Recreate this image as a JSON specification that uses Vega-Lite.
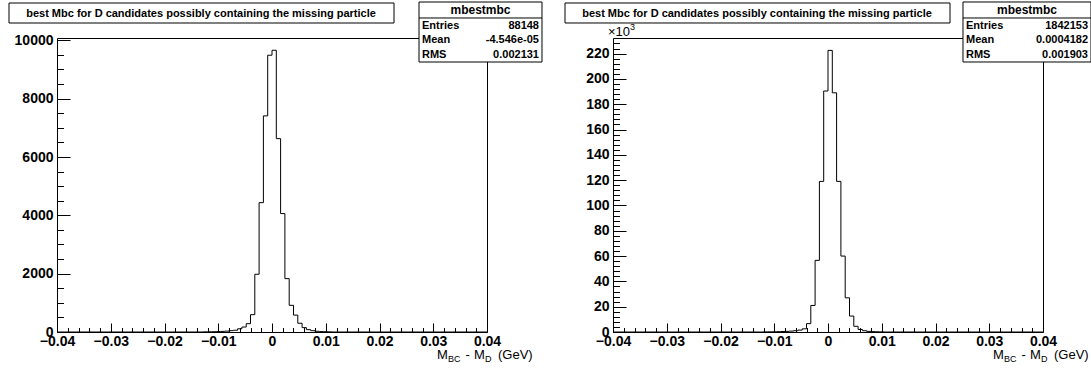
{
  "$schema": "https://vega.github.io/schema/vega-lite/v6.json",
  "autosize": {"type": "pad"},
  "padding": {"left": 8, "top": 0, "right": 0, "bottom": 0},
  "background": "white",
  "spacing": 126,
  "bounds": "flush",
  "config": {
    "font": "Liberation Sans",
    "view": {"stroke": "black", "strokeWidth": 1},
    "axis": {"labelFont": "Liberation Sans", "labelFontWeight": "bold", "labelFontSize": 14, "labelColor": "black", "grid": false, "domain": false, "tickColor": "black", "title": null},
    "text": {"font": "Liberation Sans", "color": "black"}
  },
  "datasets": {
    "one": [{}],
    "left": [
      {"x": -0.04, "n": 0}, {"x": -0.0128, "n": 5}, {"x": -0.012, "n": 8}, {"x": -0.0112, "n": 10}, {"x": -0.0104, "n": 15},
      {"x": -0.0096, "n": 20}, {"x": -0.0088, "n": 30}, {"x": -0.008, "n": 45}, {"x": -0.0072, "n": 60}, {"x": -0.0064, "n": 110},
      {"x": -0.0056, "n": 170}, {"x": -0.0048, "n": 285}, {"x": -0.004, "n": 595}, {"x": -0.0032, "n": 1980}, {"x": -0.0024, "n": 4435},
      {"x": -0.0016, "n": 7410}, {"x": -0.0008, "n": 9490}, {"x": 0, "n": 9660}, {"x": 0.0008, "n": 6630}, {"x": 0.0016, "n": 4060},
      {"x": 0.0024, "n": 1830}, {"x": 0.0032, "n": 915}, {"x": 0.004, "n": 580}, {"x": 0.0048, "n": 300}, {"x": 0.0056, "n": 150},
      {"x": 0.0064, "n": 80}, {"x": 0.0072, "n": 45}, {"x": 0.008, "n": 25}, {"x": 0.0088, "n": 15}, {"x": 0.0096, "n": 10},
      {"x": 0.0104, "n": 5}, {"x": 0.0112, "n": 0}, {"x": 0.04, "n": 0}
    ],
    "right": [
      {"x": -0.04, "n": 0}, {"x": -0.012, "n": 100}, {"x": -0.0112, "n": 150}, {"x": -0.0104, "n": 200}, {"x": -0.0096, "n": 300},
      {"x": -0.0088, "n": 400}, {"x": -0.008, "n": 500}, {"x": -0.0072, "n": 700}, {"x": -0.0064, "n": 1000}, {"x": -0.0056, "n": 1500},
      {"x": -0.0048, "n": 2500}, {"x": -0.004, "n": 6600}, {"x": -0.0032, "n": 21000}, {"x": -0.0024, "n": 56600}, {"x": -0.0016, "n": 119000},
      {"x": -0.0008, "n": 190400}, {"x": 0, "n": 222500}, {"x": 0.0008, "n": 189000}, {"x": 0.0016, "n": 119000}, {"x": 0.0024, "n": 60000},
      {"x": 0.0032, "n": 27000}, {"x": 0.004, "n": 12600}, {"x": 0.0048, "n": 4500}, {"x": 0.0056, "n": 2000}, {"x": 0.0064, "n": 1000},
      {"x": 0.0072, "n": 500}, {"x": 0.008, "n": 300}, {"x": 0.0088, "n": 200}, {"x": 0.0096, "n": 100}, {"x": 0.0104, "n": 0}, {"x": 0.04, "n": 0}
    ]
  },
  "hconcat": [
    {
      "width": 430, "height": 294,
      "resolve": {"axis": {"x": "independent", "y": "independent"}},
      "layer": [
        {
          "data": {"name": "left"},
          "mark": {"type": "line", "interpolate": "step-after", "color": "black", "strokeWidth": 1},
          "encoding": {
            "x": {"field": "x", "type": "quantitative", "scale": {"domain": [-0.04, 0.04], "nice": false, "zero": false},
                  "axis": {"orient": "bottom", "values": [-0.04, -0.03, -0.02, -0.01, 0, 0.01, 0.02, 0.03, 0.04], "format": "~g", "ticks": false, "labelPadding": 2, "labelFlush": false}},
            "y": {"field": "n", "type": "quantitative", "scale": {"domain": [0, 10080], "nice": false},
                  "axis": {"orient": "left", "values": [0, 2000, 4000, 6000, 8000, 10000], "format": "d", "ticks": false, "labelPadding": 4, "labelFlush": false}}
          }
        },
        {
          "data": {"name": "one"},
          "mark": {"type": "rect", "fill": "white", "stroke": "black", "strokeWidth": 1},
          "encoding": {
            "x": {"datum": -0.04893, "type": "quantitative", "axis": {"orient": "bottom", "values": [-0.04, -0.03, -0.02, -0.01, 0, 0.01, 0.02, 0.03, 0.04], "labels": false, "tickSize": -9}},
            "x2": {"datum": 0.0227},
            "y": {"datum": 11280, "type": "quantitative", "axis": {"orient": "left", "values": [0, 2000, 4000, 6000, 8000, 10000], "labels": false, "tickSize": -13}},
            "y2": {"datum": 10594}
          }
        },
        {
          "data": {"name": "one"},
          "mark": {"type": "rect", "fill": "white", "stroke": "black", "strokeWidth": 1},
          "encoding": {
            "x": {"datum": 0.02735, "type": "quantitative", "axis": {"orient": "bottom", "values": [-0.038, -0.036, -0.034, -0.032, -0.028, -0.026, -0.024, -0.022, -0.018, -0.016, -0.014, -0.012, -0.008, -0.006, -0.004, -0.002, 0.002, 0.004, 0.006, 0.008, 0.012, 0.014, 0.016, 0.018, 0.022, 0.024, 0.026, 0.028, 0.032, 0.034, 0.036, 0.038], "labels": false, "tickSize": -4.5}},
            "x2": {"datum": 0.05023},
            "y": {"datum": 11314, "type": "quantitative", "axis": {"orient": "left", "values": [500, 1000, 1500, 2500, 3000, 3500, 4500, 5000, 5500, 6500, 7000, 7500, 8500, 9000, 9500], "labels": false, "tickSize": -6.5}},
            "y2": {"datum": 9257}
          }
        },
        {
          "data": {"name": "one"},
          "mark": {"type": "rule", "color": "black", "strokeWidth": 1},
          "encoding": {"x": {"datum": 0.02735, "type": "quantitative", "axis": null}, "x2": {"datum": 0.05023}, "y": {"datum": 10766, "type": "quantitative", "axis": null}}
        },
        {
          "data": {"name": "one"},
          "mark": {"type": "text", "text": "best Mbc for D candidates possibly containing the missing particle", "align": "center", "baseline": "alphabetic", "fontSize": 11, "fontWeight": "bold"},
          "encoding": {"x": {"datum": -0.013209, "type": "quantitative", "axis": null}, "y": {"datum": 10800, "type": "quantitative", "axis": null}}
        },
        {
          "data": {"name": "one"},
          "mark": {"type": "text", "text": "mbestmbc", "align": "center", "baseline": "alphabetic", "fontSize": 12, "fontWeight": "bold"},
          "encoding": {"x": {"datum": 0.038791, "type": "quantitative", "axis": null}, "y": {"datum": 10886, "type": "quantitative", "axis": null}}
        },
        {
          "data": {"name": "one"},
          "mark": {"type": "text", "text": ["Entries", "Mean", "RMS"], "align": "left", "baseline": "alphabetic", "fontSize": 11, "fontWeight": "bold", "lineHeight": 14.5},
          "encoding": {"x": {"datum": 0.027907, "type": "quantitative", "axis": null}, "y": {"datum": 10389, "type": "quantitative", "axis": null}}
        },
        {
          "data": {"name": "one"},
          "mark": {"type": "text", "text": ["88148", "-4.546e-05", "0.002131"], "align": "right", "baseline": "alphabetic", "fontSize": 11, "fontWeight": "bold", "lineHeight": 14.5},
          "encoding": {"x": {"datum": 0.049674, "type": "quantitative", "axis": null}, "y": {"datum": 10389, "type": "quantitative", "axis": null}}
        },
        {
          "data": {"name": "one"},
          "mark": {"type": "text", "text": "M", "align": "left", "baseline": "alphabetic", "fontSize": 13, "dx": -50, "dy": 27},
          "encoding": {"x": {"datum": 0.04, "type": "quantitative", "axis": null}, "y": {"datum": 0, "type": "quantitative", "axis": null}}
        },
        {
          "data": {"name": "one"},
          "mark": {"type": "text", "text": "BC", "align": "left", "baseline": "alphabetic", "fontSize": 9, "dx": -39, "dy": 30},
          "encoding": {"x": {"datum": 0.04, "type": "quantitative", "axis": null}, "y": {"datum": 0, "type": "quantitative", "axis": null}}
        },
        {
          "data": {"name": "one"},
          "mark": {"type": "text", "text": "-", "align": "left", "baseline": "alphabetic", "fontSize": 13, "dx": -21.5, "dy": 27},
          "encoding": {"x": {"datum": 0.04, "type": "quantitative", "axis": null}, "y": {"datum": 0, "type": "quantitative", "axis": null}}
        },
        {
          "data": {"name": "one"},
          "mark": {"type": "text", "text": "M", "align": "left", "baseline": "alphabetic", "fontSize": 13, "dx": -13, "dy": 27},
          "encoding": {"x": {"datum": 0.04, "type": "quantitative", "axis": null}, "y": {"datum": 0, "type": "quantitative", "axis": null}}
        },
        {
          "data": {"name": "one"},
          "mark": {"type": "text", "text": "D", "align": "left", "baseline": "alphabetic", "fontSize": 9, "dx": -2, "dy": 30},
          "encoding": {"x": {"datum": 0.04, "type": "quantitative", "axis": null}, "y": {"datum": 0, "type": "quantitative", "axis": null}}
        },
        {
          "data": {"name": "one"},
          "mark": {"type": "text", "text": "(GeV)", "align": "left", "baseline": "alphabetic", "fontSize": 13, "dx": 11, "dy": 27},
          "encoding": {"x": {"datum": 0.04, "type": "quantitative", "axis": null}, "y": {"datum": 0, "type": "quantitative", "axis": null}}
        }
      ]
    },
    {
      "width": 430, "height": 294,
      "resolve": {"axis": {"x": "independent", "y": "independent"}},
      "layer": [
        {
          "data": {"name": "right"},
          "mark": {"type": "line", "interpolate": "step-after", "color": "black", "strokeWidth": 1},
          "encoding": {
            "x": {"field": "x", "type": "quantitative", "scale": {"domain": [-0.04, 0.04], "nice": false, "zero": false},
                  "axis": {"orient": "bottom", "values": [-0.04, -0.03, -0.02, -0.01, 0, 0.01, 0.02, 0.03, 0.04], "format": "~g", "ticks": false, "labelPadding": 2, "labelFlush": false}},
            "y": {"field": "n", "type": "quantitative", "scale": {"domain": [0, 232300], "nice": false},
                  "axis": {"orient": "left", "values": [0, 20000, 40000, 60000, 80000, 100000, 120000, 140000, 160000, 180000, 200000, 220000], "labelExpr": "format(datum.value / 1000, 'd')", "ticks": false, "labelPadding": 4, "labelFlush": false}}
          }
        },
        {
          "data": {"name": "one"},
          "mark": {"type": "rect", "fill": "white", "stroke": "black", "strokeWidth": 1},
          "encoding": {
            "x": {"datum": -0.04893, "type": "quantitative", "axis": {"orient": "bottom", "values": [-0.04, -0.03, -0.02, -0.01, 0, 0.01, 0.02, 0.03, 0.04], "labels": false, "tickSize": -9}},
            "x2": {"datum": 0.0227},
            "y": {"datum": 259956, "type": "quantitative", "axis": {"orient": "left", "values": [0, 20000, 40000, 60000, 80000, 100000, 120000, 140000, 160000, 180000, 200000, 220000], "labels": false, "tickSize": -13}},
            "y2": {"datum": 244153}
          }
        },
        {
          "data": {"name": "one"},
          "mark": {"type": "rect", "fill": "white", "stroke": "black", "strokeWidth": 1},
          "encoding": {
            "x": {"datum": 0.025116, "type": "quantitative", "axis": {"orient": "bottom", "values": [-0.038, -0.036, -0.034, -0.032, -0.028, -0.026, -0.024, -0.022, -0.018, -0.016, -0.014, -0.012, -0.008, -0.006, -0.004, -0.002, 0.002, 0.004, 0.006, 0.008, 0.012, 0.014, 0.016, 0.018, 0.022, 0.024, 0.026, 0.028, 0.032, 0.034, 0.036, 0.038], "labels": false, "tickSize": -4.5}},
            "x2": {"datum": 0.04893},
            "y": {"datum": 260746, "type": "quantitative", "axis": {"orient": "left", "values": [4000, 8000, 12000, 16000, 24000, 28000, 32000, 36000, 44000, 48000, 52000, 56000, 64000, 68000, 72000, 76000, 84000, 88000, 92000, 96000, 104000, 108000, 112000, 116000, 124000, 128000, 132000, 136000, 144000, 148000, 152000, 156000, 164000, 168000, 172000, 176000, 184000, 188000, 192000, 196000, 204000, 208000, 212000, 216000, 224000, 228000], "labels": false, "tickSize": -6.5}},
            "y2": {"datum": 213338}
          }
        },
        {
          "data": {"name": "one"},
          "mark": {"type": "rule", "color": "black", "strokeWidth": 1},
          "encoding": {"x": {"datum": 0.025116, "type": "quantitative", "axis": null}, "x2": {"datum": 0.04893}, "y": {"datum": 248104, "type": "quantitative", "axis": null}}
        },
        {
          "data": {"name": "one"},
          "mark": {"type": "text", "text": "best Mbc for D candidates possibly containing the missing particle", "align": "center", "baseline": "alphabetic", "fontSize": 11, "fontWeight": "bold"},
          "encoding": {"x": {"datum": -0.013209, "type": "quantitative", "axis": null}, "y": {"datum": 248894, "type": "quantitative", "axis": null}}
        },
        {
          "data": {"name": "one"},
          "mark": {"type": "text", "text": "mbestmbc", "align": "center", "baseline": "alphabetic", "fontSize": 12, "fontWeight": "bold"},
          "encoding": {"x": {"datum": 0.037023, "type": "quantitative", "axis": null}, "y": {"datum": 250869, "type": "quantitative", "axis": null}}
        },
        {
          "data": {"name": "one"},
          "mark": {"type": "text", "text": ["Entries", "Mean", "RMS"], "align": "left", "baseline": "alphabetic", "fontSize": 11, "fontWeight": "bold", "lineHeight": 14.5},
          "encoding": {"x": {"datum": 0.025674, "type": "quantitative", "axis": null}, "y": {"datum": 239412, "type": "quantitative", "axis": null}}
        },
        {
          "data": {"name": "one"},
          "mark": {"type": "text", "text": ["1842153", "0.0004182", "0.001903"], "align": "right", "baseline": "alphabetic", "fontSize": 11, "fontWeight": "bold", "lineHeight": 14.5},
          "encoding": {"x": {"datum": 0.048372, "type": "quantitative", "axis": null}, "y": {"datum": 239412, "type": "quantitative", "axis": null}}
        },
        {
          "data": {"name": "one"},
          "mark": {"type": "text", "text": "×10", "align": "left", "baseline": "alphabetic", "fontSize": 13, "dx": -5, "dy": -2},
          "encoding": {"x": {"datum": -0.04, "type": "quantitative", "axis": null}, "y": {"datum": 232300, "type": "quantitative", "axis": null}}
        },
        {
          "data": {"name": "one"},
          "mark": {"type": "text", "text": "3", "align": "left", "baseline": "alphabetic", "fontSize": 9, "dx": 17, "dy": -8},
          "encoding": {"x": {"datum": -0.04, "type": "quantitative", "axis": null}, "y": {"datum": 232300, "type": "quantitative", "axis": null}}
        },
        {
          "data": {"name": "one"},
          "mark": {"type": "text", "text": "M", "align": "left", "baseline": "alphabetic", "fontSize": 13, "dx": -50, "dy": 27},
          "encoding": {"x": {"datum": 0.04, "type": "quantitative", "axis": null}, "y": {"datum": 0, "type": "quantitative", "axis": null}}
        },
        {
          "data": {"name": "one"},
          "mark": {"type": "text", "text": "BC", "align": "left", "baseline": "alphabetic", "fontSize": 9, "dx": -39, "dy": 30},
          "encoding": {"x": {"datum": 0.04, "type": "quantitative", "axis": null}, "y": {"datum": 0, "type": "quantitative", "axis": null}}
        },
        {
          "data": {"name": "one"},
          "mark": {"type": "text", "text": "-", "align": "left", "baseline": "alphabetic", "fontSize": 13, "dx": -21.5, "dy": 27},
          "encoding": {"x": {"datum": 0.04, "type": "quantitative", "axis": null}, "y": {"datum": 0, "type": "quantitative", "axis": null}}
        },
        {
          "data": {"name": "one"},
          "mark": {"type": "text", "text": "M", "align": "left", "baseline": "alphabetic", "fontSize": 13, "dx": -13, "dy": 27},
          "encoding": {"x": {"datum": 0.04, "type": "quantitative", "axis": null}, "y": {"datum": 0, "type": "quantitative", "axis": null}}
        },
        {
          "data": {"name": "one"},
          "mark": {"type": "text", "text": "D", "align": "left", "baseline": "alphabetic", "fontSize": 9, "dx": -2, "dy": 30},
          "encoding": {"x": {"datum": 0.04, "type": "quantitative", "axis": null}, "y": {"datum": 0, "type": "quantitative", "axis": null}}
        },
        {
          "data": {"name": "one"},
          "mark": {"type": "text", "text": "(GeV)", "align": "left", "baseline": "alphabetic", "fontSize": 13, "dx": 11, "dy": 27},
          "encoding": {"x": {"datum": 0.04, "type": "quantitative", "axis": null}, "y": {"datum": 0, "type": "quantitative", "axis": null}}
        }
      ]
    }
  ]
}
